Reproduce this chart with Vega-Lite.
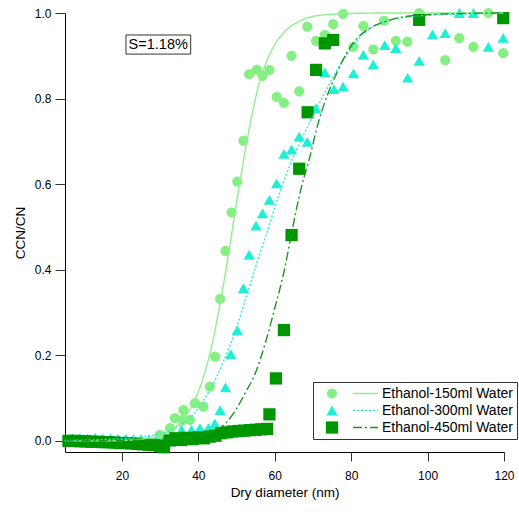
{
  "$schema": "https://vega.github.io/schema/vega-lite/v6.json",
  "width": 439,
  "height": 439,
  "autosize": "none",
  "padding": {"left": 65, "top": 13, "right": 15, "bottom": 60},
  "config": {
    "font": "Liberation Sans",
    "view": {"stroke": null},
    "axis": {"grid": false, "domainColor": "#000000", "domainWidth": 1, "tickColor": "#333333", "tickWidth": 1, "labelColor": "#000000", "titleColor": "#000000", "labelFontSize": 12, "titleFontSize": 13.5, "titleFontWeight": "normal", "labelFont": "Liberation Sans", "titleFont": "Liberation Sans", "labelFlush": false},
    "legend": {"labelFont": "Liberation Sans"}
  },
  "datasets": {
    "pts": [
      {"d": 29.9, "r": 0.014, "series": "Ethanol-150ml Water"},
      {"d": 32.6, "r": 0.030, "series": "Ethanol-150ml Water"},
      {"d": 33.9, "r": 0.053, "series": "Ethanol-150ml Water"},
      {"d": 35.9, "r": 0.049, "series": "Ethanol-150ml Water"},
      {"d": 36.1, "r": 0.072, "series": "Ethanol-150ml Water"},
      {"d": 37.8, "r": 0.049, "series": "Ethanol-150ml Water"},
      {"d": 39.1, "r": 0.088, "series": "Ethanol-150ml Water"},
      {"d": 41.3, "r": 0.080, "series": "Ethanol-150ml Water"},
      {"d": 43.0, "r": 0.127, "series": "Ethanol-150ml Water"},
      {"d": 44.4, "r": 0.197, "series": "Ethanol-150ml Water"},
      {"d": 45.7, "r": 0.332, "series": "Ethanol-150ml Water"},
      {"d": 47.1, "r": 0.444, "series": "Ethanol-150ml Water"},
      {"d": 48.7, "r": 0.534, "series": "Ethanol-150ml Water"},
      {"d": 50.2, "r": 0.606, "series": "Ethanol-150ml Water"},
      {"d": 51.8, "r": 0.702, "series": "Ethanol-150ml Water"},
      {"d": 53.3, "r": 0.857, "series": "Ethanol-150ml Water"},
      {"d": 55.3, "r": 0.867, "series": "Ethanol-150ml Water"},
      {"d": 56.8, "r": 0.853, "series": "Ethanol-150ml Water"},
      {"d": 58.6, "r": 0.867, "series": "Ethanol-150ml Water"},
      {"d": 60.5, "r": 0.804, "series": "Ethanol-150ml Water"},
      {"d": 62.4, "r": 0.790, "series": "Ethanol-150ml Water"},
      {"d": 64.4, "r": 0.900, "series": "Ethanol-150ml Water"},
      {"d": 66.4, "r": 0.817, "series": "Ethanol-150ml Water"},
      {"d": 68.5, "r": 0.968, "series": "Ethanol-150ml Water"},
      {"d": 70.8, "r": 0.935, "series": "Ethanol-150ml Water"},
      {"d": 73.1, "r": 0.949, "series": "Ethanol-150ml Water"},
      {"d": 75.3, "r": 0.974, "series": "Ethanol-150ml Water"},
      {"d": 77.9, "r": 0.998, "series": "Ethanol-150ml Water"},
      {"d": 80.6, "r": 0.921, "series": "Ethanol-150ml Water"},
      {"d": 83.2, "r": 0.970, "series": "Ethanol-150ml Water"},
      {"d": 85.8, "r": 0.915, "series": "Ethanol-150ml Water"},
      {"d": 88.6, "r": 0.982, "series": "Ethanol-150ml Water"},
      {"d": 91.7, "r": 0.935, "series": "Ethanol-150ml Water"},
      {"d": 94.7, "r": 0.933, "series": "Ethanol-150ml Water"},
      {"d": 97.8, "r": 1.0, "series": "Ethanol-150ml Water"},
      {"d": 104.6, "r": 0.890, "series": "Ethanol-150ml Water"},
      {"d": 108.3, "r": 0.941, "series": "Ethanol-150ml Water"},
      {"d": 112.0, "r": 0.921, "series": "Ethanol-150ml Water"},
      {"d": 115.9, "r": 1.0, "series": "Ethanol-150ml Water"},
      {"d": 119.8, "r": 0.906, "series": "Ethanol-150ml Water"},
      {"d": 7, "r": 0.006, "series": "Ethanol-300ml Water"},
      {"d": 9, "r": 0.007, "series": "Ethanol-300ml Water"},
      {"d": 11, "r": 0.006, "series": "Ethanol-300ml Water"},
      {"d": 13, "r": 0.007, "series": "Ethanol-300ml Water"},
      {"d": 15, "r": 0.006, "series": "Ethanol-300ml Water"},
      {"d": 17, "r": 0.006, "series": "Ethanol-300ml Water"},
      {"d": 19, "r": 0.005, "series": "Ethanol-300ml Water"},
      {"d": 21, "r": 0.005, "series": "Ethanol-300ml Water"},
      {"d": 23, "r": 0.004, "series": "Ethanol-300ml Water"},
      {"d": 25, "r": 0.004, "series": "Ethanol-300ml Water"},
      {"d": 27, "r": 0.003, "series": "Ethanol-300ml Water"},
      {"d": 29, "r": 0.002, "series": "Ethanol-300ml Water"},
      {"d": 31, "r": 0.002, "series": "Ethanol-300ml Water"},
      {"d": 33, "r": 0.008, "series": "Ethanol-300ml Water"},
      {"d": 35.6, "r": 0.026, "series": "Ethanol-300ml Water"},
      {"d": 38.2, "r": 0.026, "series": "Ethanol-300ml Water"},
      {"d": 40.4, "r": 0.030, "series": "Ethanol-300ml Water"},
      {"d": 42.6, "r": 0.030, "series": "Ethanol-300ml Water"},
      {"d": 43.9, "r": 0.022, "series": "Ethanol-300ml Water"},
      {"d": 44.3, "r": 0.041, "series": "Ethanol-300ml Water"},
      {"d": 45.7, "r": 0.072, "series": "Ethanol-300ml Water"},
      {"d": 47.1, "r": 0.125, "series": "Ethanol-300ml Water"},
      {"d": 48.5, "r": 0.203, "series": "Ethanol-300ml Water"},
      {"d": 50.2, "r": 0.259, "series": "Ethanol-300ml Water"},
      {"d": 51.8, "r": 0.357, "series": "Ethanol-300ml Water"},
      {"d": 53.3, "r": 0.435, "series": "Ethanol-300ml Water"},
      {"d": 55.1, "r": 0.503, "series": "Ethanol-300ml Water"},
      {"d": 56.8, "r": 0.532, "series": "Ethanol-300ml Water"},
      {"d": 58.6, "r": 0.563, "series": "Ethanol-300ml Water"},
      {"d": 60.5, "r": 0.602, "series": "Ethanol-300ml Water"},
      {"d": 62.4, "r": 0.671, "series": "Ethanol-300ml Water"},
      {"d": 64.4, "r": 0.681, "series": "Ethanol-300ml Water"},
      {"d": 66.4, "r": 0.711, "series": "Ethanol-300ml Water"},
      {"d": 68.5, "r": 0.699, "series": "Ethanol-300ml Water"},
      {"d": 70.8, "r": 0.777, "series": "Ethanol-300ml Water"},
      {"d": 73.1, "r": 0.861, "series": "Ethanol-300ml Water"},
      {"d": 75.5, "r": 0.822, "series": "Ethanol-300ml Water"},
      {"d": 77.9, "r": 0.828, "series": "Ethanol-300ml Water"},
      {"d": 80.6, "r": 0.859, "series": "Ethanol-300ml Water"},
      {"d": 83.2, "r": 0.902, "series": "Ethanol-300ml Water"},
      {"d": 85.8, "r": 0.880, "series": "Ethanol-300ml Water"},
      {"d": 88.8, "r": 0.925, "series": "Ethanol-300ml Water"},
      {"d": 91.7, "r": 0.918, "series": "Ethanol-300ml Water"},
      {"d": 94.8, "r": 0.849, "series": "Ethanol-300ml Water"},
      {"d": 97.8, "r": 0.888, "series": "Ethanol-300ml Water"},
      {"d": 101.3, "r": 0.950, "series": "Ethanol-300ml Water"},
      {"d": 104.6, "r": 0.953, "series": "Ethanol-300ml Water"},
      {"d": 108.3, "r": 1.0, "series": "Ethanol-300ml Water"},
      {"d": 112.0, "r": 1.0, "series": "Ethanol-300ml Water"},
      {"d": 115.9, "r": 0.921, "series": "Ethanol-300ml Water"},
      {"d": 119.8, "r": 0.942, "series": "Ethanol-300ml Water"},
      {"d": 6.0, "r": 0.000, "series": "Ethanol-450ml Water"},
      {"d": 7.5, "r": 0.000, "series": "Ethanol-450ml Water"},
      {"d": 9.0, "r": -0.001, "series": "Ethanol-450ml Water"},
      {"d": 10.5, "r": -0.001, "series": "Ethanol-450ml Water"},
      {"d": 12.0, "r": -0.002, "series": "Ethanol-450ml Water"},
      {"d": 13.5, "r": -0.002, "series": "Ethanol-450ml Water"},
      {"d": 15.0, "r": -0.003, "series": "Ethanol-450ml Water"},
      {"d": 16.5, "r": -0.003, "series": "Ethanol-450ml Water"},
      {"d": 18.0, "r": -0.004, "series": "Ethanol-450ml Water"},
      {"d": 19.5, "r": -0.005, "series": "Ethanol-450ml Water"},
      {"d": 21.0, "r": -0.005, "series": "Ethanol-450ml Water"},
      {"d": 22.5, "r": -0.006, "series": "Ethanol-450ml Water"},
      {"d": 24.0, "r": -0.007, "series": "Ethanol-450ml Water"},
      {"d": 25.5, "r": -0.008, "series": "Ethanol-450ml Water"},
      {"d": 27.0, "r": -0.009, "series": "Ethanol-450ml Water"},
      {"d": 28.5, "r": -0.010, "series": "Ethanol-450ml Water"},
      {"d": 30.0, "r": -0.012, "series": "Ethanol-450ml Water"},
      {"d": 31.0, "r": -0.015, "series": "Ethanol-450ml Water"},
      {"d": 32.5, "r": 0.001, "series": "Ethanol-450ml Water"},
      {"d": 34.0, "r": 0.006, "series": "Ethanol-450ml Water"},
      {"d": 35.5, "r": 0.002, "series": "Ethanol-450ml Water"},
      {"d": 37.0, "r": 0.007, "series": "Ethanol-450ml Water"},
      {"d": 38.5, "r": 0.004, "series": "Ethanol-450ml Water"},
      {"d": 40.0, "r": 0.008, "series": "Ethanol-450ml Water"},
      {"d": 41.5, "r": 0.006, "series": "Ethanol-450ml Water"},
      {"d": 43.0, "r": 0.010, "series": "Ethanol-450ml Water"},
      {"d": 44.5, "r": 0.012, "series": "Ethanol-450ml Water"},
      {"d": 46.0, "r": 0.018, "series": "Ethanol-450ml Water"},
      {"d": 47.5, "r": 0.020, "series": "Ethanol-450ml Water"},
      {"d": 49.0, "r": 0.022, "series": "Ethanol-450ml Water"},
      {"d": 50.5, "r": 0.023, "series": "Ethanol-450ml Water"},
      {"d": 52.0, "r": 0.024, "series": "Ethanol-450ml Water"},
      {"d": 53.5, "r": 0.025, "series": "Ethanol-450ml Water"},
      {"d": 55.0, "r": 0.026, "series": "Ethanol-450ml Water"},
      {"d": 56.5, "r": 0.027, "series": "Ethanol-450ml Water"},
      {"d": 58.0, "r": 0.028, "series": "Ethanol-450ml Water"},
      {"d": 58.6, "r": 0.062, "series": "Ethanol-450ml Water"},
      {"d": 60.3, "r": 0.146, "series": "Ethanol-450ml Water"},
      {"d": 62.4, "r": 0.259, "series": "Ethanol-450ml Water"},
      {"d": 64.4, "r": 0.481, "series": "Ethanol-450ml Water"},
      {"d": 66.4, "r": 0.636, "series": "Ethanol-450ml Water"},
      {"d": 68.6, "r": 0.768, "series": "Ethanol-450ml Water"},
      {"d": 70.8, "r": 0.867, "series": "Ethanol-450ml Water"},
      {"d": 73.1, "r": 0.929, "series": "Ethanol-450ml Water"},
      {"d": 75.3, "r": 0.937, "series": "Ethanol-450ml Water"},
      {"d": 97.8, "r": 0.984, "series": "Ethanol-450ml Water"},
      {"d": 119.8, "r": 0.988, "series": "Ethanol-450ml Water"}
    ],
    "fits": [
      {"d": 5, "r": 0.000, "series": "Ethanol-150ml Water"},
      {"d": 15, "r": 0.000, "series": "Ethanol-150ml Water"},
      {"d": 20, "r": 0.001, "series": "Ethanol-150ml Water"},
      {"d": 25, "r": 0.004, "series": "Ethanol-150ml Water"},
      {"d": 30, "r": 0.013, "series": "Ethanol-150ml Water"},
      {"d": 33, "r": 0.026, "series": "Ethanol-150ml Water"},
      {"d": 36, "r": 0.050, "series": "Ethanol-150ml Water"},
      {"d": 38, "r": 0.076, "series": "Ethanol-150ml Water"},
      {"d": 40, "r": 0.115, "series": "Ethanol-150ml Water"},
      {"d": 42, "r": 0.169, "series": "Ethanol-150ml Water"},
      {"d": 44, "r": 0.243, "series": "Ethanol-150ml Water"},
      {"d": 46, "r": 0.336, "series": "Ethanol-150ml Water"},
      {"d": 48, "r": 0.443, "series": "Ethanol-150ml Water"},
      {"d": 50, "r": 0.557, "series": "Ethanol-150ml Water"},
      {"d": 52, "r": 0.664, "series": "Ethanol-150ml Water"},
      {"d": 54, "r": 0.760, "series": "Ethanol-150ml Water"},
      {"d": 56, "r": 0.838, "series": "Ethanol-150ml Water"},
      {"d": 58, "r": 0.890, "series": "Ethanol-150ml Water"},
      {"d": 60, "r": 0.926, "series": "Ethanol-150ml Water"},
      {"d": 63, "r": 0.960, "series": "Ethanol-150ml Water"},
      {"d": 66, "r": 0.979, "series": "Ethanol-150ml Water"},
      {"d": 70, "r": 0.992, "series": "Ethanol-150ml Water"},
      {"d": 75, "r": 0.997, "series": "Ethanol-150ml Water"},
      {"d": 80, "r": 0.999, "series": "Ethanol-150ml Water"},
      {"d": 90, "r": 1.0, "series": "Ethanol-150ml Water"},
      {"d": 120, "r": 1.0, "series": "Ethanol-150ml Water"},
      {"d": 5, "r": 0.001, "series": "Ethanol-300ml Water"},
      {"d": 15, "r": 0.003, "series": "Ethanol-300ml Water"},
      {"d": 20, "r": 0.005, "series": "Ethanol-300ml Water"},
      {"d": 25, "r": 0.009, "series": "Ethanol-300ml Water"},
      {"d": 30, "r": 0.017, "series": "Ethanol-300ml Water"},
      {"d": 34, "r": 0.030, "series": "Ethanol-300ml Water"},
      {"d": 38, "r": 0.055, "series": "Ethanol-300ml Water"},
      {"d": 41, "r": 0.090, "series": "Ethanol-300ml Water"},
      {"d": 44, "r": 0.135, "series": "Ethanol-300ml Water"},
      {"d": 47, "r": 0.195, "series": "Ethanol-300ml Water"},
      {"d": 50, "r": 0.265, "series": "Ethanol-300ml Water"},
      {"d": 53, "r": 0.350, "series": "Ethanol-300ml Water"},
      {"d": 56, "r": 0.435, "series": "Ethanol-300ml Water"},
      {"d": 58, "r": 0.488, "series": "Ethanol-300ml Water"},
      {"d": 61, "r": 0.572, "series": "Ethanol-300ml Water"},
      {"d": 64, "r": 0.645, "series": "Ethanol-300ml Water"},
      {"d": 67, "r": 0.705, "series": "Ethanol-300ml Water"},
      {"d": 70, "r": 0.760, "series": "Ethanol-300ml Water"},
      {"d": 73, "r": 0.812, "series": "Ethanol-300ml Water"},
      {"d": 76, "r": 0.862, "series": "Ethanol-300ml Water"},
      {"d": 79, "r": 0.904, "series": "Ethanol-300ml Water"},
      {"d": 82, "r": 0.940, "series": "Ethanol-300ml Water"},
      {"d": 85, "r": 0.964, "series": "Ethanol-300ml Water"},
      {"d": 90, "r": 0.983, "series": "Ethanol-300ml Water"},
      {"d": 95, "r": 0.991, "series": "Ethanol-300ml Water"},
      {"d": 100, "r": 0.995, "series": "Ethanol-300ml Water"},
      {"d": 110, "r": 0.998, "series": "Ethanol-300ml Water"},
      {"d": 120, "r": 1.0, "series": "Ethanol-300ml Water"},
      {"d": 5, "r": 0.000, "series": "Ethanol-450ml Water"},
      {"d": 20, "r": 0.001, "series": "Ethanol-450ml Water"},
      {"d": 30, "r": 0.003, "series": "Ethanol-450ml Water"},
      {"d": 36, "r": 0.007, "series": "Ethanol-450ml Water"},
      {"d": 40, "r": 0.012, "series": "Ethanol-450ml Water"},
      {"d": 44, "r": 0.022, "series": "Ethanol-450ml Water"},
      {"d": 47, "r": 0.040, "series": "Ethanol-450ml Water"},
      {"d": 50, "r": 0.075, "series": "Ethanol-450ml Water"},
      {"d": 52, "r": 0.108, "series": "Ethanol-450ml Water"},
      {"d": 55, "r": 0.160, "series": "Ethanol-450ml Water"},
      {"d": 57.5, "r": 0.228, "series": "Ethanol-450ml Water"},
      {"d": 60, "r": 0.310, "series": "Ethanol-450ml Water"},
      {"d": 62.7, "r": 0.407, "series": "Ethanol-450ml Water"},
      {"d": 64.5, "r": 0.490, "series": "Ethanol-450ml Water"},
      {"d": 67, "r": 0.594, "series": "Ethanol-450ml Water"},
      {"d": 69.2, "r": 0.664, "series": "Ethanol-450ml Water"},
      {"d": 71.1, "r": 0.734, "series": "Ethanol-450ml Water"},
      {"d": 73.6, "r": 0.804, "series": "Ethanol-450ml Water"},
      {"d": 76.2, "r": 0.859, "series": "Ethanol-450ml Water"},
      {"d": 78.8, "r": 0.906, "series": "Ethanol-450ml Water"},
      {"d": 81, "r": 0.935, "series": "Ethanol-450ml Water"},
      {"d": 85, "r": 0.965, "series": "Ethanol-450ml Water"},
      {"d": 89, "r": 0.980, "series": "Ethanol-450ml Water"},
      {"d": 93, "r": 0.990, "series": "Ethanol-450ml Water"},
      {"d": 100, "r": 0.996, "series": "Ethanol-450ml Water"},
      {"d": 110, "r": 0.999, "series": "Ethanol-450ml Water"},
      {"d": 120, "r": 1.0, "series": "Ethanol-450ml Water"}
    ],
    "note": [
      {"d": 21.06, "d2": 38.0, "r": 0.904, "r2": 0.9486, "dm": 29.5, "rm": 0.926, "label": "S=1.18%"}
    ]
  },
  "layer": [
    {
      "data": {"name": "pts"},
      "mark": {"type": "point", "filled": true, "opacity": 1, "strokeWidth": 0},
      "encoding": {
        "x": {"field": "d", "type": "quantitative", "title": "Dry diameter (nm)",
              "scale": {"domain": [5.1, 120], "nice": false, "zero": false},
              "axis": {"values": [20, 40, 60, 80, 100, 120], "format": "d", "tickSize": 9, "labelPadding": 9, "titlePadding": 4, "labelFlush": false}},
        "y": {"field": "r", "type": "quantitative", "title": "CCN/CN",
              "scale": {"domain": [-0.026, 1.0], "nice": false, "zero": false},
              "axis": {"values": [0, 0.2, 0.4, 0.6, 0.8, 1.0], "format": ".1f", "tickSize": 10, "labelPadding": 4, "titlePadding": 7, "labelFlush": false}},
        "color": {"field": "series", "type": "nominal",
                  "scale": {"domain": ["Ethanol-150ml Water", "Ethanol-300ml Water", "Ethanol-450ml Water"], "range": ["#86ef83", "#1ef0d4", "#009600"]},
                  "legend": {"title": null, "orient": "none", "legendX": 248, "legendY": 369, "padding": 4, "strokeColor": "#333333", "labelFontSize": 14, "labelColor": "#000000", "symbolOffset": 8, "labelOffset": 43, "clipHeight": 15, "rowPadding": 2, "symbolSize": 100, "symbolStrokeWidth": 0, "symbolOpacity": 1}},
        "shape": {"field": "series", "type": "nominal",
                  "scale": {"domain": ["Ethanol-150ml Water", "Ethanol-300ml Water", "Ethanol-450ml Water"], "range": ["circle", "triangle-up", "square"]},
                  "legend": {"title": null, "orient": "none", "legendX": 248, "legendY": 369, "padding": 4, "strokeColor": "#333333", "labelFontSize": 14, "labelColor": "#000000", "symbolOffset": 8, "labelOffset": 43, "clipHeight": 15, "rowPadding": 2, "symbolSize": 100, "symbolStrokeWidth": 0, "symbolOpacity": 1}},
        "size": {"field": "series", "type": "nominal",
                 "scale": {"domain": ["Ethanol-150ml Water", "Ethanol-300ml Water", "Ethanol-450ml Water"], "range": [105, 150, 100]},
                 "legend": null},
        "order": {"field": "series"}
      }
    },
    {
      "data": {"name": "fits"},
      "mark": {"type": "line", "interpolate": "monotone", "strokeWidth": 1.4},
      "encoding": {
        "x": {"field": "d", "type": "quantitative", "title": "Dry diameter (nm)"},
        "y": {"field": "r", "type": "quantitative", "title": "CCN/CN"},
        "color": {"field": "series", "type": "nominal",
                  "scale": {"domain": ["Ethanol-150ml Water", "Ethanol-300ml Water", "Ethanol-450ml Water"], "range": ["#90ef8c", "#22ecdc", "#1f961f"]},
                  "legend": {"title": null, "orient": "none", "legendX": 283, "legendY": 369, "padding": 4, "labelExpr": "''", "clipHeight": 15, "rowPadding": 2, "symbolSize": 625, "symbolStrokeWidth": 1.5, "symbolType": "stroke"}},
        "strokeDash": {"field": "series", "type": "nominal",
                  "scale": {"domain": ["Ethanol-150ml Water", "Ethanol-300ml Water", "Ethanol-450ml Water"], "range": [[1, 0], [2, 2], [9, 3, 2, 3]]},
                  "legend": {"title": null, "orient": "none", "legendX": 283, "legendY": 369, "padding": 4, "labelExpr": "''", "clipHeight": 15, "rowPadding": 2, "symbolSize": 625, "symbolStrokeWidth": 1.5, "symbolType": "stroke"}}
      }
    },
    {
      "data": {"name": "note"},
      "mark": {"type": "rect", "fill": "#ffffff", "stroke": "#333333", "strokeWidth": 1},
      "encoding": {
        "x": {"field": "d", "type": "quantitative", "title": "Dry diameter (nm)"},
        "x2": {"field": "d2"},
        "y": {"field": "r", "type": "quantitative", "title": "CCN/CN"},
        "y2": {"field": "r2"}
      }
    },
    {
      "data": {"name": "note"},
      "mark": {"type": "text", "fontSize": 14.5, "font": "Liberation Sans", "color": "#000000", "align": "center", "baseline": "middle"},
      "encoding": {
        "x": {"field": "dm", "type": "quantitative", "title": "Dry diameter (nm)"},
        "y": {"field": "rm", "type": "quantitative", "title": "CCN/CN"},
        "text": {"field": "label"}
      }
    }
  ],
  "resolve": {"scale": {"color": "independent", "shape": "independent", "strokeDash": "independent", "size": "independent"}}
}
